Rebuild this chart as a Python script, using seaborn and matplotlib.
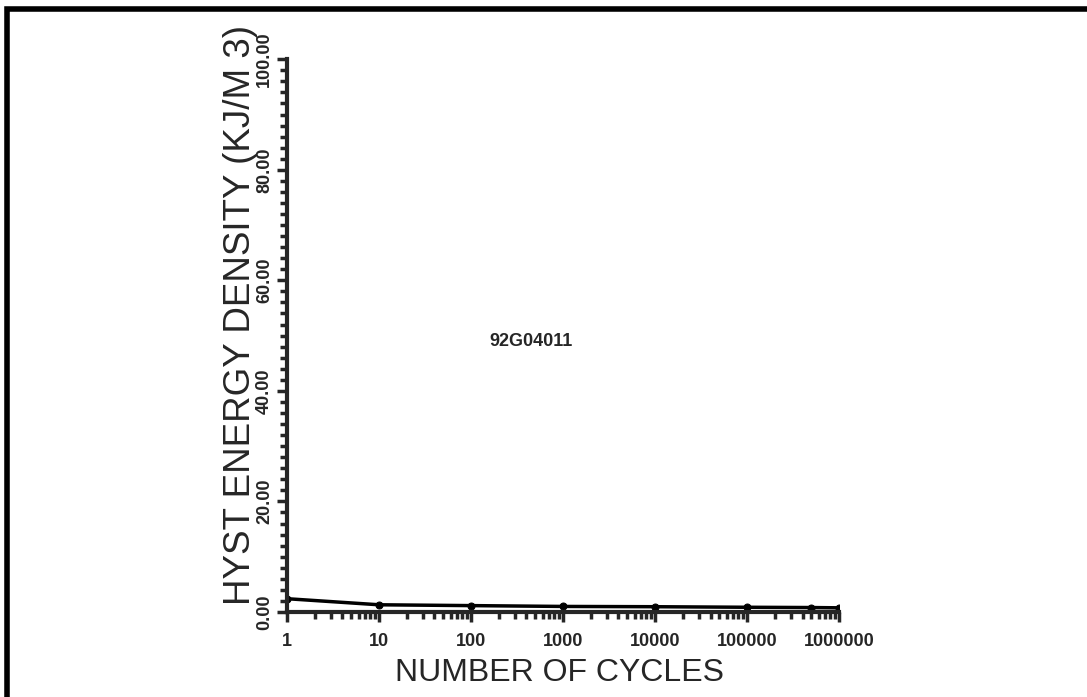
import numpy as np
import pandas as pd
import matplotlib
matplotlib.use("Agg")
import matplotlib.pyplot as plt
import matplotlib.ticker as mticker
from matplotlib.patches import Rectangle
import seaborn as sns

# Data
cycles = [1, 10, 100, 1000, 10000, 100000, 500000, 1000000]
energy = [2.4, 1.3, 1.15, 1.0, 0.95, 0.85, 0.8, 0.75]

x_ticks = [1, 10, 100, 1000, 10000, 100000, 1000000]
x_tick_labels = ["1", "10", "100", "1000", "10000", "100000", "1000000"]
y_ticks = [0, 20, 40, 60, 80, 100]
specimen = "92G04011"

df = pd.DataFrame({"cycles": cycles, "energy": energy})

sns.set_style("ticks")
plt.rcParams["font.family"] = ["Liberation Sans", "DejaVu Sans"]

fig = plt.figure(figsize=(10.87, 6.97), dpi=100)
ax = fig.add_axes([0.264, 0.122, 0.508, 0.793])

sns.lineplot(data=df, x="cycles", y="energy", ax=ax, color="black",
             linewidth=2.5, marker="o", markersize=5, markeredgecolor="black")

ax.set_xscale("log")
ax.set_xlim(1, 1000000)
ax.set_ylim(0, 100)

# only left and bottom spines, thick like the scan
sns.despine(ax=ax)
for s in ["left", "bottom"]:
    ax.spines[s].set_linewidth(3)

ax.xaxis.set_major_locator(mticker.FixedLocator(x_ticks))
ax.xaxis.set_major_formatter(mticker.FixedFormatter(x_tick_labels))
ax.xaxis.set_minor_locator(mticker.LogLocator(base=10, subs=np.arange(2, 10)))
ax.xaxis.set_minor_formatter(mticker.NullFormatter())

ax.yaxis.set_major_locator(mticker.FixedLocator(y_ticks))
ax.yaxis.set_major_formatter(mticker.FormatStrFormatter("%.2f"))
ax.yaxis.set_minor_locator(mticker.MultipleLocator(2))

ax.tick_params(axis="both", which="major", direction="out", length=7, width=2.5,
               labelsize=13)
ax.tick_params(axis="x", which="major", pad=8)
ax.tick_params(axis="y", which="major", pad=3)
ax.tick_params(axis="both", which="minor", direction="out", length=5, width=2.5)
for lbl in ax.get_xticklabels():
    lbl.set_fontweight("bold")
for lbl in ax.get_yticklabels():
    lbl.set_fontweight("bold")
    lbl.set_rotation(90)
    lbl.set_va("center")

ax.set_xlabel("")
ax.set_ylabel("")
ax.grid(False)

# Axis titles
fig.text(0.515, 0.035, "NUMBER OF CYCLES", ha="center", va="center", fontsize=23)
fig.text(0.221, 0.548, "HYST ENERGY DENSITY (KJ/M 3)", ha="center", va="center",
         fontsize=26.5, rotation=90)

# Specimen id
ax.text(450, 49, specimen, ha="center", va="center", fontsize=13, fontweight="bold")

# Page frame (top and left edges visible in the scan)
fig.patches.append(Rectangle((0.0064, -0.1), 1.2, 1.087, transform=fig.transFigure,
                             fill=False, edgecolor="black", linewidth=4))

plt.savefig("out.png", dpi=100)
